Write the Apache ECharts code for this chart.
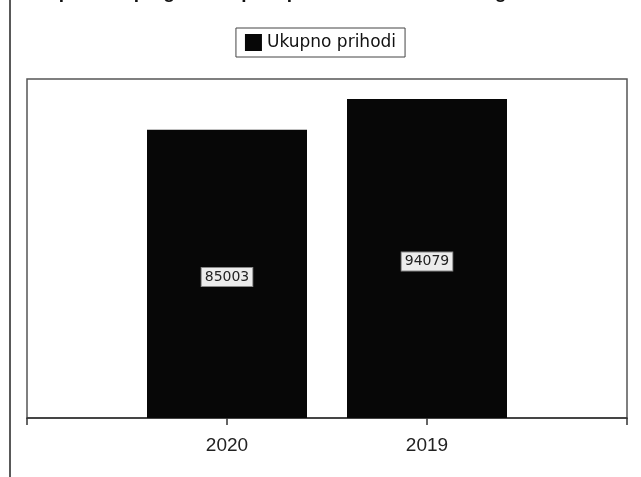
<!DOCTYPE html>
<html>
<head>
<meta charset="utf-8">
<script src="https://cdn.jsdelivr.net/npm/echarts@6/dist/echarts.min.js"></script>
<style>
html,body{margin:0;padding:0;background:#fff;}
#c{width:641px;height:477px;}
</style>
</head>
<body>
<div id="c"></div>
<script>
var titleText = 'Uporedni pregled ukupnih prihoda u 2020. i 2019. godini';
var seriesName = 'Ukupno prihodi';
var categories = ['2020', '2019'];
var values = [85003, 94079];

// pad the category axis with empty slots at both ends (the bars sit on ticks 1 and 2 of 0..3)
var axisCats = [''].concat(categories).concat(['']);
var axisVals = ['-'].concat(values).concat(['-']);

var chart = echarts.init(document.getElementById('c'));
chart.setOption({
  backgroundColor: '#fff',
  animation: false,
  title: {
    text: titleText,
    left: 40,
    top: -22,
    textStyle: { fontFamily: 'Liberation Sans', fontSize: 19, fontWeight: 'bold', color: '#111' }
  },
  legend: {
    data: [seriesName],
    left: 'center',
    top: 28,
    itemWidth: 17,
    itemHeight: 17,
    itemGap: 5,
    padding: [6, 9],
    borderColor: '#444',
    borderWidth: 1,
    icon: 'rect',
    textStyle: { fontFamily: 'DejaVu Sans', fontSize: 17, color: '#111' }
  },
  graphic: [{
    type: 'line',
    shape: { x1: 10, y1: 0, x2: 10, y2: 477 },
    style: { stroke: '#222', lineWidth: 1.5 }
  }],
  grid: {
    left: 27, right: 14, top: 79, bottom: 59,
    show: true, borderColor: '#555', borderWidth: 1.5, backgroundColor: '#fff'
  },
  xAxis: {
    type: 'category',
    data: axisCats,
    boundaryGap: false,
    axisLine: { lineStyle: { color: '#333', width: 1.5 } },
    axisTick: { show: true, length: 7, lineStyle: { color: '#333', width: 1.5 } },
    axisLabel: { margin: 18, fontFamily: 'Liberation Sans', fontSize: 19, color: '#222', interval: 0 },
    splitLine: { show: false }
  },
  yAxis: {
    type: 'value',
    min: 0,
    max: 100000,
    show: false,
    splitLine: { show: false }
  },
  series: [{
    name: seriesName,
    type: 'bar',
    data: axisVals,
    barWidth: 160,
    itemStyle: { color: '#070707' },
    label: {
      show: true,
      position: 'inside',
      offset: [0, 3],
      fontFamily: 'DejaVu Sans',
      fontSize: 14,
      color: '#222',
      backgroundColor: '#ececec',
      borderColor: '#888',
      borderWidth: 1,
      padding: [2, 3]
    }
  }]
});
</script>
</body>
</html>
